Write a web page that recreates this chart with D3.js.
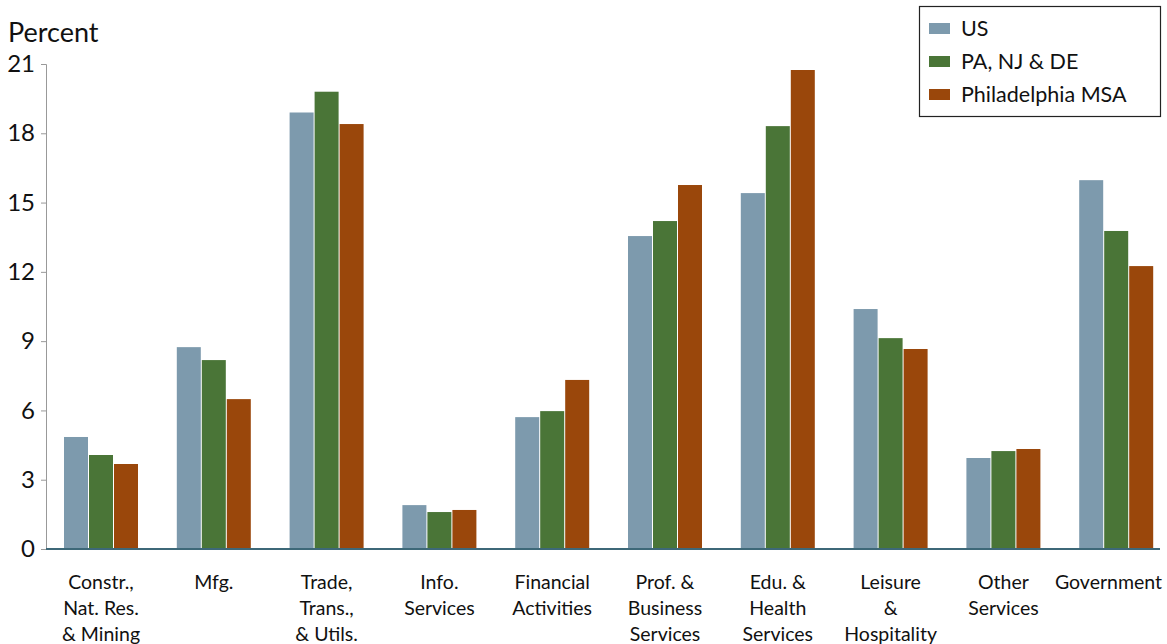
<!DOCTYPE html>
<html><head><meta charset="utf-8">
<script src="https://cdn.jsdelivr.net/npm/d3@7"></script>
<style>body{margin:0;background:#fff}svg{display:block}text{font-family:Lato,"Open Sans",sans-serif;fill:#111}</style>
</head><body><svg id="c" width="1167" height="644"></svg>
<script>
const categories = [
  ["Constr.,","Nat. Res.","& Mining"],
  ["Mfg."],
  ["Trade,","Trans.,","& Utils."],
  ["Info.","Services"],
  ["Financial","Activities"],
  ["Prof. &","Business","Services"],
  ["Edu. &","Health","Services"],
  ["Leisure","&","Hospitality"],
  ["Other","Services"],
  ["Government"]
];
const seriesNames = ["US","PA, NJ & DE","Philadelphia MSA"];
const usValues   = [4.85, 8.74, 18.9, 1.9, 5.71, 13.55, 15.41, 10.39, 3.94, 15.97];
const triValues  = [4.07, 8.18, 19.8, 1.6, 5.97, 14.2, 18.31, 9.13, 4.24, 13.77];
const phlValues  = [3.68, 6.49, 18.4, 1.69, 7.32, 15.76, 20.74, 8.66, 4.33, 12.25];
const yTicks = [0,3,6,9,12,15,18,21];
const colors = ["#7d9aad","#4a7537","#9a470b"];

(function(){
const svg = d3.select("#c");
const mLeft = 46, mRight = 1160, mTop = 64, mBottom = 549;
const x = d3.scaleBand().domain(d3.range(categories.length)).range([44.6,1172.6]).paddingInner(0.344).paddingOuter(0.172);
const xs = d3.scaleBand().domain(d3.range(3)).range([0,x.bandwidth()]).paddingInner(0.04);
const y = d3.scaleLinear().domain([0,21]).range([mBottom,mTop]);

const series = [usValues, triValues, phlValues];

const ya = svg.append("g").attr("transform",`translate(${mLeft},0)`)
  .call(d3.axisLeft(y).tickValues(yTicks).tickSize(5).tickPadding(6));
ya.select(".domain").attr("stroke","#999");
ya.selectAll(".tick line").attr("stroke","#999");
ya.selectAll("text").style("font-size","24px").attr("fill","#111");

svg.append("text").attr("x",8).attr("y",42).style("font-size","27px").text("Percent");

categories.forEach((c,i)=>{
  series.forEach((s,j)=>{
    svg.append("rect")
      .attr("x", x(i)+xs(j)).attr("width", xs.bandwidth())
      .attr("y", y(s[i])).attr("height", y(0)-y(s[i]))
      .attr("fill", colors[j]);
  });
});

svg.append("line").attr("x1",mLeft).attr("x2",mRight).attr("y1",y(0)).attr("y2",y(0))
  .attr("stroke","#3d6878").attr("stroke-width",2);

categories.forEach((lines,i)=>{
  const t = svg.append("text").attr("text-anchor","middle").style("font-size","19.5px");
  lines.forEach((l,k)=>{
    t.append("tspan").attr("x", x(i)+x.bandwidth()/2).attr("y", 589+k*26).text(l);
  });
  const bb = t.node().getBBox();
  if (bb.x + bb.width > 1162) {
    const shift = bb.x + bb.width - 1162;
    t.selectAll("tspan").attr("x", x(i)+x.bandwidth()/2 - shift);
  }
});

const lg = svg.append("g");
lg.append("rect").attr("x",919.5).attr("y",6.5).attr("width",241).attr("height",110)
  .attr("fill","#fff").attr("stroke","#222").attr("stroke-width",1.2);
seriesNames.forEach((n,j)=>{
  lg.append("rect").attr("x",929).attr("y",23+j*33).attr("width",21).attr("height",11).attr("fill",colors[j]);
  lg.append("text").attr("x",961).attr("y",36+j*33).style("font-size","21.5px").text(n);
});
})();
</script></body></html>
